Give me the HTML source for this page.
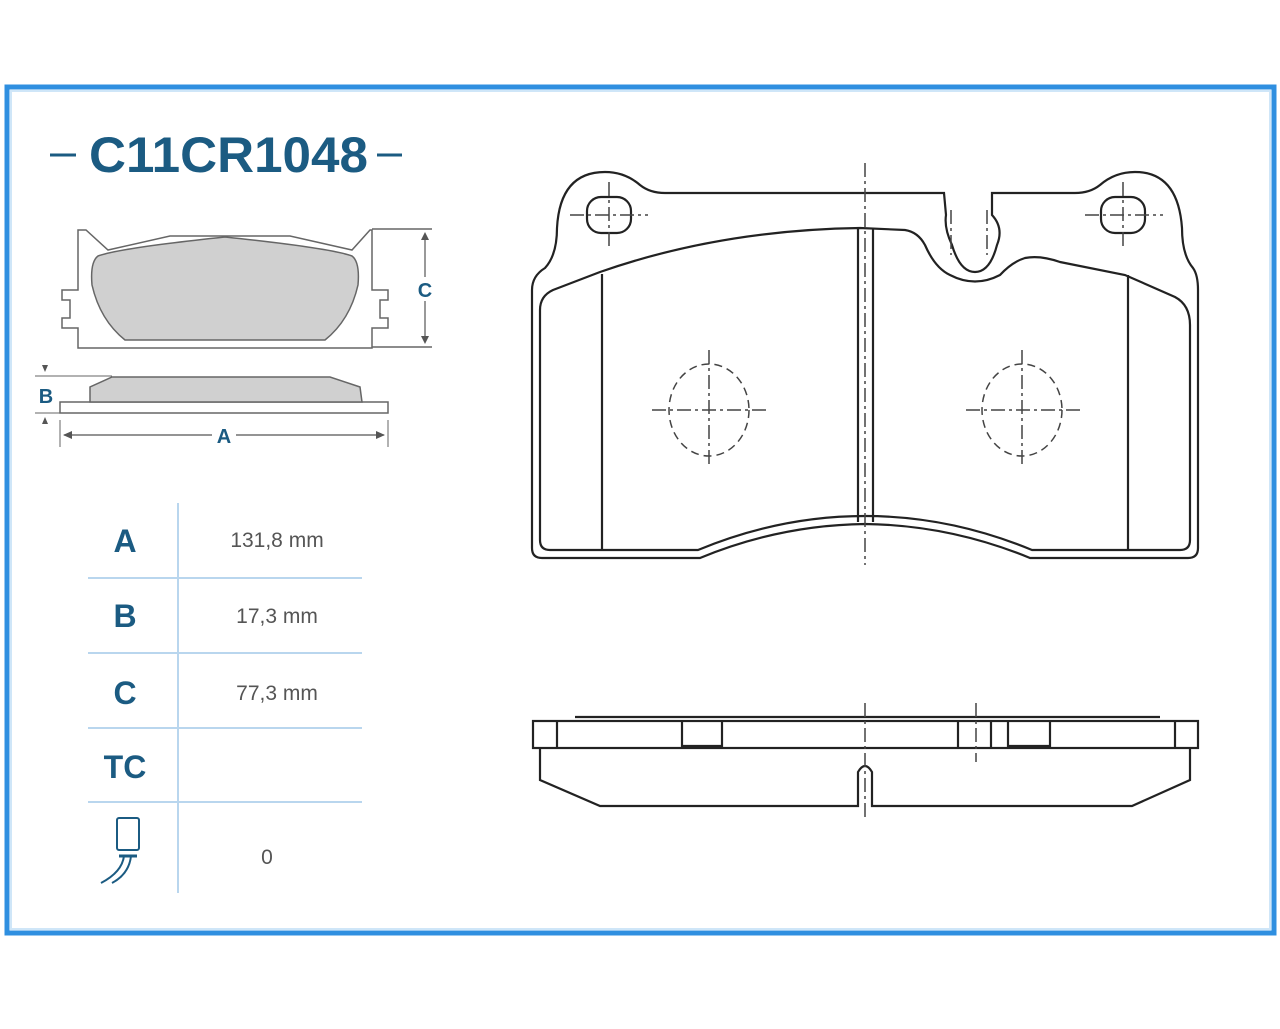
<!DOCTYPE html>
<html><head><meta charset="utf-8"><style>
body{margin:0;background:#fff;width:1280px;height:1024px;overflow:hidden;font-family:"Liberation Sans",sans-serif}
</style></head><body>
<svg width="1280" height="1024" viewBox="0 0 1280 1024" xmlns="http://www.w3.org/2000/svg" font-family="Liberation Sans, sans-serif">
<rect x="7" y="87" width="1267" height="846" fill="none" stroke="#2f8fe0" stroke-width="5"/>
<rect x="11" y="91" width="1259" height="838" fill="none" stroke="#cfe6f8" stroke-width="2"/>
<!-- title -->
<text x="89" y="172" font-size="50" font-weight="bold" fill="#1b5b82" textLength="279" lengthAdjust="spacingAndGlyphs">C11CR1048</text>
<line x1="50" y1="155" x2="76" y2="155" stroke="#1b5b82" stroke-width="3"/>
<line x1="377" y1="155" x2="402" y2="155" stroke="#1b5b82" stroke-width="3"/>
<!-- small front view -->
<g fill="none" stroke="#666" stroke-width="1.5">
<path d="M78,230 L86,230 L108,250 L170,236 L290,236 L352,250 L370,230 L372,230 L372,290 L388,290 L388,300 L380,300 L380,318 L388,318 L388,328 L372,328 L372,348 L78,348 L78,328 L62,328 L62,318 L70,318 L70,300 L62,300 L62,290 L78,290 Z"/>
<line x1="372" y1="229" x2="432" y2="229"/><line x1="372" y1="347" x2="432" y2="347"/>
</g>
<path d="M98,256 Q120,248 225,237 Q330,248 352,256 Q360,262 358,285 Q350,320 325,340 L125,340 Q100,320 92,285 Q90,262 98,256 Z" fill="#d0d0d0" stroke="#666" stroke-width="1.5"/>
<line x1="425" y1="234" x2="425" y2="342" stroke="#555" stroke-width="1.2"/>
<path d="M421,240 L425,232 L429,240 Z M421,336 L425,344 L429,336 Z" fill="#555"/>
<rect x="414" y="277" width="22" height="24" fill="#fff"/>
<text x="425" y="297" text-anchor="middle" font-size="20" font-weight="bold" fill="#1b5b82">C</text>
<!-- small side view -->
<rect x="60" y="402" width="328" height="11" fill="#fff" stroke="#666" stroke-width="1.5"/>
<path d="M90,402 L90,387 L112,377 L330,377 L360,387 L362,402 Z" fill="#d0d0d0" stroke="#666" stroke-width="1.5"/>
<line x1="35" y1="376" x2="112" y2="376" stroke="#666" stroke-width="1"/>
<line x1="35" y1="413" x2="60" y2="413" stroke="#666" stroke-width="1"/>
<text x="46" y="403" text-anchor="middle" font-size="20" font-weight="bold" fill="#1b5b82">B</text>
<path d="M42,365 L48,365 L45,372 Z M42,424 L48,424 L45,417 Z" fill="#555"/>
<line x1="60" y1="420" x2="60" y2="447" stroke="#666"/><line x1="388" y1="420" x2="388" y2="447" stroke="#666"/>
<line x1="64" y1="435" x2="384" y2="435" stroke="#555" stroke-width="1.2"/>
<path d="M63,435 L72,431 L72,439 Z M385,435 L376,431 L376,439 Z" fill="#555"/>
<rect x="212" y="425" width="24" height="20" fill="#fff"/>
<text x="224" y="443" text-anchor="middle" font-size="20" font-weight="bold" fill="#1b5b82">A</text>
<!-- table -->
<g stroke="#b9d6ee" stroke-width="2">
<line x1="178" y1="503" x2="178" y2="893"/>
<line x1="88" y1="578" x2="362" y2="578"/><line x1="88" y1="653" x2="362" y2="653"/>
<line x1="88" y1="728" x2="362" y2="728"/><line x1="88" y1="802" x2="362" y2="802"/>
</g>
<g font-size="32" font-weight="bold" fill="#1b5b82" text-anchor="middle">
<text x="125" y="552">A</text><text x="125" y="627">B</text><text x="125" y="704">C</text><text x="125" y="778">TC</text>
</g>
<g font-size="21" fill="#555" text-anchor="middle">
<text x="277" y="547">131,8 mm</text><text x="277" y="623">17,3 mm</text><text x="277" y="700">77,3 mm</text><text x="267" y="864">0</text>
</g>
<g fill="none" stroke="#1b5b82" stroke-width="2">
<rect x="117" y="818" width="22" height="32" rx="2"/>
<line x1="119" y1="856" x2="137" y2="856" stroke-width="3"/>
<path d="M124,856 Q122,872 101,883 M131,856 Q129,874 112,883"/>
</g>
<!-- main front view -->
<g fill="none" stroke="#222" stroke-width="2.2">
<path d="M545,268 Q557,255 557,228 Q560,172 605,172 Q625,172 640,185 Q650,193 665,193 L944,193 L946,215 Q944,228 952,245 Q960,272 975,272 Q990,272 997,245 Q1004,228 992,215 L992,193 L1075,193 Q1090,193 1100,185 Q1115,172 1135,172 Q1178,172 1182,228 Q1182,255 1193,268 Q1198,275 1198,290 L1198,548 Q1198,558 1188,558 L1030,558 Q950,525 865,524 Q780,525 700,558 L542,558 Q532,558 532,548 L532,290 Q532,276 545,268 Z"/>
<path d="M553,290 L600,272 Q720,230 860,228 L905,230 Q918,232 925,245 Q935,268 950,275 Q975,288 1000,275 Q1012,262 1025,258 Q1040,255 1060,262 L1125,275 L1175,297 Q1190,305 1190,325 L1190,540 Q1190,550 1180,550 L1032,550 Q950,516 865,516 Q780,516 698,550 L550,550 Q540,550 540,540 L540,310 Q540,296 553,290 Z"/>
<line x1="602" y1="274" x2="602" y2="550"/>
<line x1="1128" y1="275" x2="1128" y2="550"/>
<line x1="858" y1="229" x2="858" y2="522"/>
<line x1="873" y1="229" x2="873" y2="522"/>
<rect x="587" y="197" width="44" height="36" rx="14"/>
<rect x="1101" y="197" width="44" height="36" rx="14"/>
</g>
<g fill="none" stroke="#444" stroke-width="1.5">
<g stroke-dasharray="14,4,3,4">
<line x1="865" y1="163" x2="865" y2="565"/>
<line x1="570" y1="215" x2="648" y2="215"/><line x1="609" y1="182" x2="609" y2="250"/>
<line x1="1085" y1="215" x2="1163" y2="215"/><line x1="1123" y1="182" x2="1123" y2="250"/>
<line x1="652" y1="410" x2="766" y2="410"/><line x1="709" y1="350" x2="709" y2="465"/>
<line x1="966" y1="410" x2="1080" y2="410"/><line x1="1022" y1="350" x2="1022" y2="465"/>
<line x1="951" y1="210" x2="951" y2="255"/><line x1="987" y1="210" x2="987" y2="255"/>
</g>
<ellipse cx="709" cy="410" rx="40" ry="46" stroke-dasharray="8,5"/>
<ellipse cx="1022" cy="410" rx="40" ry="46" stroke-dasharray="8,5"/>
</g>
<!-- side view -->
<g fill="none" stroke="#222" stroke-width="2.2">
<line x1="575" y1="717" x2="1160" y2="717"/>
<rect x="533" y="721" width="665" height="27"/>
<path d="M540,748 L540,780 L600,806 L858,806 L858,772 Q865,760 872,772 L872,806 L1132,806 L1190,780 L1190,748"/>
<line x1="557" y1="721" x2="557" y2="748"/><line x1="682" y1="721" x2="682" y2="748"/>
<line x1="722" y1="721" x2="722" y2="748"/><line x1="958" y1="721" x2="958" y2="748"/>
<line x1="991" y1="721" x2="991" y2="748"/><line x1="1008" y1="721" x2="1008" y2="748"/>
<line x1="1050" y1="721" x2="1050" y2="748"/><line x1="1175" y1="721" x2="1175" y2="748"/>
<line x1="682" y1="746" x2="722" y2="746"/><line x1="1008" y1="746" x2="1050" y2="746"/>
</g>
<g stroke="#444" stroke-width="1.5" stroke-dasharray="14,4,3,4">
<line x1="865" y1="703" x2="865" y2="820"/><line x1="976" y1="703" x2="976" y2="762"/>
</g>
</svg>
</body></html>
